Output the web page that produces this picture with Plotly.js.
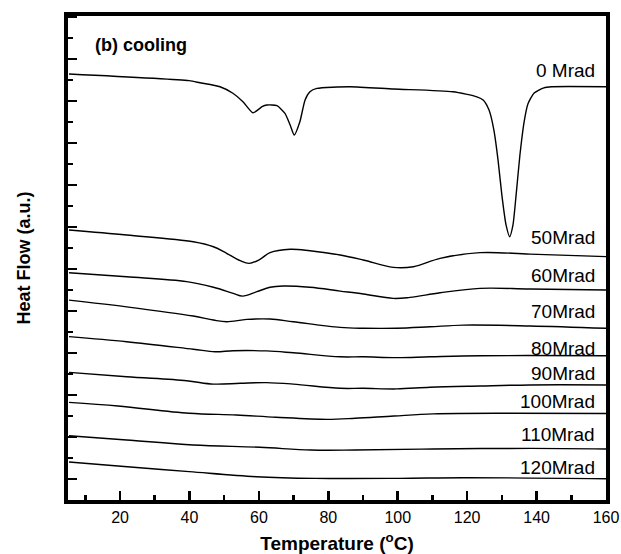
<!DOCTYPE html>
<html>
<head>
<meta charset="utf-8">
<script src="https://cdn.plot.ly/plotly-3.0.1.min.js"></script>
<style>html,body{margin:0;padding:0;background:#fff;}#chart{width:621px;height:554px;}</style>
</head>
<body>
<div id="chart"></div>
<script>
// ---- data (temperature in °C, heat flow in a.u., curves offset vertically) ----
const labels = ["0 Mrad","50Mrad","60Mrad","70Mrad","80Mrad","90Mrad","100Mrad","110Mrad","120Mrad"];

const t0 = [5.3,39.9,43.0,48.8,52.5,55.4,58.3,60.9,62.3,65.2,67.5,69.0,70.2,71.8,73.3,74.7,76.7,86.2,98.9,115.9,122.8,124.6,126.3,127.7,128.9,130.0,131.2,132.25,133.2,134.1,135.2,136.4,137.5,139.3,142.1,144.4,160];
const h0 = [20.29,19.97,19.87,19.68,19.37,18.97,18.44,18.73,18.81,18.78,18.41,17.86,17.38,18.01,19.05,19.44,19.60,19.68,19.57,19.44,19.20,19.05,18.57,17.62,16.19,14.52,13.10,12.54,13.10,14.52,16.43,18.00,18.86,19.38,19.63,19.68,19.68];

const t50 = [5.3,21.9,41.1,46.9,50.7,54.6,57.2,60.3,63.2,69.0,74.7,83.4,90.1,98.7,104.5,112.2,123.7,138.1,160];
const h50 = [12.86,12.62,12.30,12.06,11.75,11.40,11.27,11.46,11.78,11.94,11.87,11.67,11.43,11.08,11.11,11.51,11.78,11.71,11.59];

const t60 = [5.3,21.9,39.2,46.9,52.6,55.3,59.4,63.2,67.0,74.7,83.4,90.1,98.7,103.5,112.2,123.7,138.1,160];
const h60 = [10.82,10.63,10.40,10.13,9.84,9.71,9.92,10.13,10.19,10.13,9.95,9.81,9.60,9.65,9.87,10.08,10.05,10.00];

const t70 = [5.3,21.9,41.1,46.9,50.7,56.5,63.2,69.9,83.4,90.1,99.7,109.3,118.9,138.1,160];
const h70 = [9.52,9.20,8.76,8.57,8.49,8.60,8.62,8.49,8.22,8.18,8.18,8.25,8.33,8.29,8.18];

const t80 = [5.3,21.9,41.1,47.4,52.6,62.2,69.9,83.4,90.1,99.7,109.3,123.7,160];
const h80 = [7.78,7.54,7.18,7.06,7.11,7.10,7.01,6.82,6.82,6.78,6.82,6.87,6.87];

const t90 = [5.3,21.9,39.2,46.9,54.6,62.2,69.9,83.4,90.1,99.7,109.3,123.7,138.1,160];
const h90 = [6.08,5.87,5.68,5.52,5.56,5.59,5.52,5.32,5.32,5.29,5.37,5.43,5.48,5.48];

const t100 = [5.3,19.4,39.9,53.5,64.9,79.6,87.7,98.9,110.3,132.9,160];
const h100 = [4.65,4.48,4.13,4.05,3.94,3.84,3.89,4.00,4.10,4.13,4.12];

const t110 = [5.3,21.9,41.1,60.3,75.0,87.7,110.3,138.1,160];
const h110 = [3.06,2.86,2.62,2.51,2.38,2.38,2.43,2.46,2.43];

const t120 = [5.3,19.4,39.9,59.2,76.2,100.6,118.8,160];
const h120 = [1.81,1.62,1.35,1.11,1.03,1.03,1.06,1.01];

const xTickVals = [20,40,60,80,100,120,140,160];

// label anchor heights (a.u.)
const labelY = [20.45,12.48,10.69,8.98,7.21,6.02,4.69,3.12,1.55];

// ---- build ----
const temps = [t0,t50,t60,t70,t80,t90,t100,t110,t120];
const flows = [h0,h50,h60,h70,h80,h90,h100,h110,h120];

const traces = temps.map((t,i)=>({
  x: t, y: flows[i], type: 'scatter', mode: 'lines', name: labels[i],
  line: {color: '#000', width: 1.4, shape: 'spline', smoothing: i === 0 ? 0.6 : 1.0},
  hoverinfo: 'skip', showlegend: false
}));

const FONT = 'Liberation Sans, Arial, Helvetica, sans-serif';

const annotations = labels.map((lab,i)=>({
  text: lab, x: 157.3, y: labelY[i], xref: 'x', yref: 'y',
  xanchor: 'right', yanchor: 'middle', showarrow: false,
  font: {family: FONT, size: 19, color: '#000'}
}));
annotations.push({
  text: '<b>(b) cooling</b>', x: 12.2, y: 21.67, xref: 'x', yref: 'y',
  xanchor: 'left', yanchor: 'middle', showarrow: false,
  font: {family: FONT, size: 18, color: '#000'}
});

const layout = {
  width: 621, height: 554,
  margin: {l: 68, r: 15, t: 16, b: 54},
  paper_bgcolor: '#fff', plot_bgcolor: '#fff',
  showlegend: false,
  xaxis: {
    range: [5,160], tickmode: 'array', tickvals: xTickVals,
    ticks: 'inside', ticklen: 9, tickwidth: 2.6, tickcolor: '#000',
    minor: {dtick: 10, tick0: 0, ticks: 'inside', ticklen: 5, tickwidth: 2.6, tickcolor: '#000', showgrid: false},
    showline: true, linecolor: '#000', linewidth: 4, mirror: true,
    showgrid: false, zeroline: false,
    tickfont: {family: FONT, size: 16, color: '#000'},
    title: {text: '<b>Temperature (<sup>o</sup>C)</b>', font: {family: FONT, size: 19, color: '#000'}, standoff: 12}
  },
  yaxis: {
    range: [0,23.05], tick0: 1, dtick: 2,
    ticks: 'inside', ticklen: 9, tickwidth: 2.6, tickcolor: '#000',
    minor: {dtick: 1, tick0: 0, ticks: 'inside', ticklen: 5, tickwidth: 2.6, tickcolor: '#000', showgrid: false},
    showticklabels: false,
    showline: true, linecolor: '#000', linewidth: 4, mirror: true,
    showgrid: false, zeroline: false,
    title: {text: '<b>Heat Flow (a.u.)</b>', font: {family: FONT, size: 18, color: '#000'}, standoff: 30}
  },
  annotations: annotations
};

Plotly.newPlot('chart', traces, layout, {displayModeBar: false, staticPlot: true});
</script>
</body>
</html>
